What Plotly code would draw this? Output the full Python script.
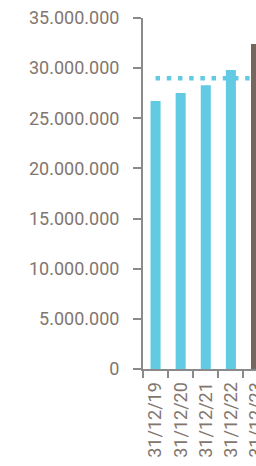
import plotly.graph_objects as go

categories = ["31/12/19", "31/12/20", "31/12/21", "31/12/22", "31/12/23"]
values = [26720000, 27520000, 28290000, 29810000, 32410000]
target = [29000000] * len(categories)

cyan = "#62CBE3"
brown = "#75665E"
bar_colors = [cyan, cyan, cyan, cyan, brown]
text_color = "#82766F"
axis_color = "#8A8A8A"

fig = go.Figure()
fig.add_trace(go.Bar(x=categories, y=values, marker=dict(color=bar_colors, line=dict(width=0)),
                     showlegend=False))
fig.add_trace(go.Scatter(x=categories, y=target, mode="lines",
                         line=dict(color=cyan, width=4.5, dash="4.5px,6.7px"),
                         showlegend=False))

fig.update_layout(
    width=256, height=466,
    margin=dict(l=143, r=0, t=18, b=97, autoexpand=False),
    paper_bgcolor="white", plot_bgcolor="white",
    separators=",.",
    bargap=0.6,
    font=dict(family="Roboto", size=18, color=text_color),
)
fig.update_xaxes(
    type="category", range=[-0.5, 4.0], tickangle=-90,
    tickson="boundaries", ticks="outside", ticklen=7, tickwidth=2, tickcolor=axis_color,
    showline=True, linecolor=axis_color, linewidth=2, showgrid=False,
    ticklabelstandoff=4, automargin=False, ticklabeloverflow="allow",
)
fig.update_yaxes(
    range=[0, 35000000], dtick=5000000, tickformat=",d",
    ticks="outside", ticklen=8, tickwidth=2, tickcolor=axis_color,
    showline=True, linecolor=axis_color, linewidth=2, showgrid=False, zeroline=False,
    ticklabelstandoff=10, automargin=False, ticklabeloverflow="allow",
)
fig.write_html(
    "out.html",
    config={"displayModeBar": False},
    post_script="document.body.style.margin='0';document.body.style.overflow='hidden';",
)
